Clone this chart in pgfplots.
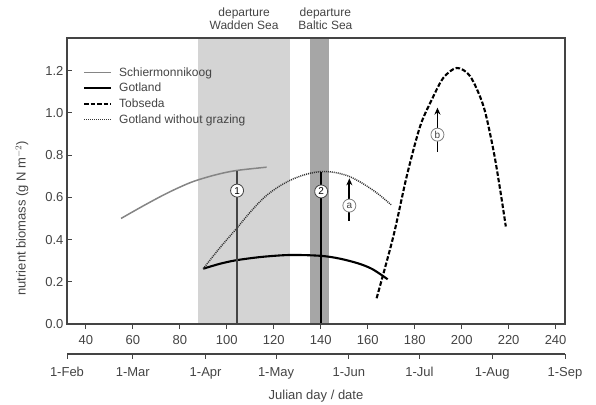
\documentclass[border=0pt]{standalone}
\usepackage{fontspec}
\setmainfont{Liberation Sans}
\usepackage{pgfplots}
\pgfplotsset{compat=1.18}
\usetikzlibrary{arrows.meta}

\definecolor{axisgray}{HTML}{444444}
\definecolor{bandlight}{HTML}{D4D4D4}
\definecolor{banddark}{HTML}{A6A6A6}
\definecolor{schier}{HTML}{858585}

\begin{document}
\begin{tikzpicture}
% page frame: same margins round the axis box as the reference
\useasboundingbox (-67pt,-80pt) rectangle (529pt,324pt);
\begin{axis}[
  at={(0pt,0pt)}, anchor=south west,
  scale only axis, width=498pt, height=286pt,
  xmin=32, xmax=244, ymin=0, ymax=1.355,
  axis on top, clip=false,
  axis line style={axisgray, line width=1.5pt},
  tick style={axisgray, line width=1pt},
  major tick length=5pt,
  xtick pos=bottom, ytick pos=left,
  xtick align=outside, ytick align=inside,
  xtick={40,60,80,100,120,140,160,180,200,220,240},
  ytick={0,0.2,0.4,0.6,0.8,1.0,1.2},
  yticklabel style={/pgf/number format/.cd, fixed, fixed zerofill, precision=1},
  xticklabel style={yshift=-3pt},
  /pgf/number format/assume math mode=true,
  ticklabel style={font=\fontsize{13}{15}\selectfont, text=axisgray},
  ylabel={nutrient biomass (g N m$^{-2}$)},
  ylabel style={font=\fontsize{13}{15}\selectfont, text=axisgray,
    at={(axis description cs:-0.0904,0.37)}, anchor=center},
  legend style={draw=none, fill=none, inner sep=0pt, at={(0.032,0.905)}, anchor=north west,
    font=\fontsize{12}{13}\selectfont, text=axisgray, row sep=1.5pt, column sep=5pt},
  legend cell align=left,
  legend image code/.code={\draw[#1] (0pt,0pt) -- (27pt,0pt);},
]
% shaded departure periods
\addplot[draw=none, fill=bandlight, forget plot] coordinates {(87.6,1.355) (127.1,1.355)} \closedcycle;
\addplot[draw=none, fill=banddark, forget plot] coordinates {(135.6,1.355) (143.4,1.355)} \closedcycle;

\addplot[schier, line width=1.5pt, smooth] coordinates {
  (55,0.500) (65,0.563) (75,0.622) (85,0.672) (95,0.706) (104,0.727) (117,0.743)};
\addplot[black, line width=2.1pt, smooth] coordinates {
  (90,0.262) (97,0.285) (104,0.302) (115,0.318) (127,0.327) (140,0.323)
  (148,0.310) (156,0.287) (162,0.260) (168.5,0.212)};
\addplot[black, line width=2.1pt, dash pattern=on 4.5pt off 2pt, smooth] coordinates {
  (163.8,0.122) (170.9,0.414) (176.6,0.699) (182.3,0.936) (187.3,1.063) (192.2,1.166)
  (197.9,1.213) (203.6,1.174) (209.3,1.032) (213.5,0.825) (216.4,0.636) (218.8,0.462)};
\addplot[black!80, line width=1.5pt, dash pattern=on 1pt off 1pt, smooth] coordinates {
  (90,0.262) (97,0.360) (104,0.450) (110,0.530) (116,0.600) (122,0.650) (128,0.686)
  (134,0.710) (140,0.722) (146,0.718) (152,0.700) (158,0.665) (164,0.620) (170,0.565)};
\legend{Schiermonnikoog, Gotland, Tobseda, Gotland without grazing}

% departure lines
\addplot[axisgray, line width=1.3pt, forget plot] coordinates {(104.4,0) (104.4,0.727)};
\addplot[black, line width=1.8pt, forget plot] coordinates {(140.2,0) (140.2,0.722)};
% arrows a and b
\addplot[black, line width=1.8pt, -{Stealth[length=7pt,width=6pt]}, forget plot] coordinates {(152.2,0.592) (152.2,0.690)};
\addplot[black, line width=1.8pt, forget plot] coordinates {(152.2,0.530) (152.2,0.486)};
\addplot[black, line width=1.8pt, -{Stealth[length=7pt,width=6pt]}, forget plot] coordinates {(189.7,0.928) (189.7,1.025)};
\addplot[black, line width=1.8pt, forget plot] coordinates {(189.7,0.866) (189.7,0.817)};

\node[circle, draw=axisgray, fill=white, line width=0.8pt, minimum size=13pt, inner sep=0pt,
  font=\fontsize{10}{10}\selectfont] at (axis cs:104.4,0.632) {1};
\node[circle, draw=axisgray, fill=white, line width=0.8pt, minimum size=13pt, inner sep=0pt,
  font=\fontsize{10}{10}\selectfont] at (axis cs:140.2,0.628) {2};
\node[circle, draw=gray, fill=white, line width=0.8pt, minimum size=13pt, inner sep=0pt,
  font=\fontsize{10}{10}\selectfont, text=axisgray] at (axis cs:152.2,0.561) {a};
\node[circle, draw=gray, fill=white, line width=0.8pt, minimum size=13pt, inner sep=0pt,
  font=\fontsize{10}{10}\selectfont, text=axisgray] at (axis cs:189.7,0.897) {b};

\node[align=center, anchor=south, font=\fontsize{12}{13}\selectfont, text=axisgray, inner sep=0pt]
  at ([yshift=8pt]axis cs:107.4,1.355) {departure\\Wadden Sea};
\node[align=center, anchor=south, font=\fontsize{12}{13}\selectfont, text=axisgray, inner sep=0pt]
  at ([yshift=8pt]axis cs:142,1.355) {departure\\Baltic Sea};
\end{axis}

% date axis below
\begin{axis}[
  at={(0pt,-30pt)}, anchor=south west,
  scale only axis, width=498pt, height=1pt,
  xmin=32, xmax=244, ymin=0, ymax=1,
  axis x line*=bottom, hide y axis,
  axis line style={-, axisgray, line width=1.5pt},
  tick style={axisgray, line width=1pt},
  major tick length=5pt, tick align=outside,
  xtick={32,60,91,121,152,182,213,244},
  xticklabels={1-Feb,1-Mar,1-Apr,1-May,1-Jun,1-Jul,1-Aug,1-Sep},
  xticklabel style={yshift=-5pt},
  ticklabel style={font=\fontsize{13}{15}\selectfont, text=axisgray},
  xlabel={Julian day / date},
  xlabel style={font=\fontsize{13}{15}\selectfont, text=axisgray, yshift=-4pt},
]
\end{axis}
\end{tikzpicture}
\end{document}
